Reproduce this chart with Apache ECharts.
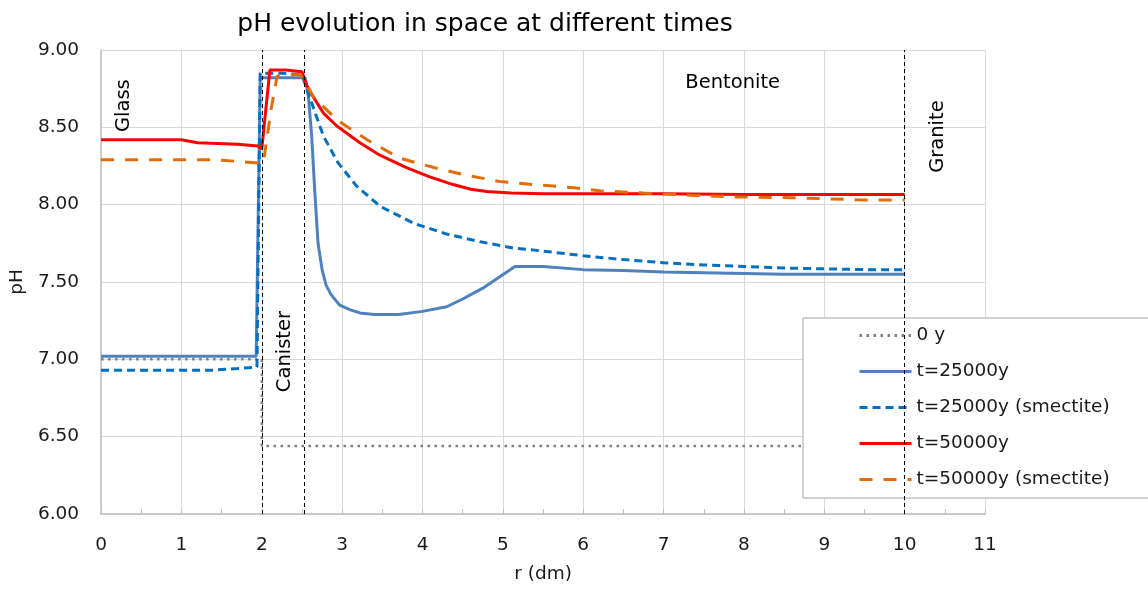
<!DOCTYPE html>
<html>
<head>
<meta charset="utf-8">
<script src="https://cdn.jsdelivr.net/npm/echarts@6/dist/echarts.min.js"></script>
<style>
  html, body { margin: 0; padding: 0; background: #fff; }
  #chart { width: 1148px; height: 589px; }
</style>
</head>
<body>
<div id="chart"></div>
<script>
// Radial distance r (dm) and pH for each simulated time
const r0y = [0, 2, 2, 10];
const ph0y = [7.00, 7.00, 6.44, 6.44];

const r25 = [0, 1.5, 1.93, 1.98, 2.25, 2.54, 2.58, 2.62, 2.66, 2.70, 2.75, 2.80, 2.86, 2.97, 3.1, 3.22, 3.4, 3.7, 4.0, 4.3, 4.5, 4.75, 5.15, 5.5, 6.0, 6.5, 7.0, 7.5, 8.0, 8.5, 9.0, 9.5, 10];
const ph25 = [7.02, 7.02, 7.02, 8.82, 8.82, 8.82, 8.70, 8.45, 8.08, 7.75, 7.58, 7.48, 7.42, 7.35, 7.32, 7.30, 7.29, 7.29, 7.31, 7.34, 7.39, 7.46, 7.60, 7.60, 7.58, 7.575, 7.565, 7.56, 7.555, 7.55, 7.55, 7.55, 7.55];

const r25s = [0, 1.4, 1.7, 1.94, 1.98, 2.25, 2.5, 2.58, 2.68, 2.77, 2.95, 3.18, 3.47, 3.89, 4.3, 4.72, 5.13, 5.5, 6.0, 6.5, 7.0, 7.5, 8.0, 8.5, 9.0, 9.5, 10];
const ph25s = [6.93, 6.93, 6.94, 6.95, 8.85, 8.85, 8.84, 8.72, 8.57, 8.44, 8.27, 8.12, 7.99, 7.88, 7.81, 7.76, 7.72, 7.70, 7.67, 7.645, 7.625, 7.61, 7.60, 7.59, 7.585, 7.58, 7.58];

const r50 = [0, 1.0, 1.2, 1.7, 1.95, 2.0, 2.1, 2.3, 2.5, 2.56, 2.66, 2.77, 2.93, 3.22, 3.47, 3.8, 4.09, 4.38, 4.6, 4.8, 5.1, 5.5, 6, 7, 8, 9, 10];
const ph50 = [8.42, 8.42, 8.40, 8.39, 8.38, 8.36, 8.87, 8.87, 8.86, 8.77, 8.68, 8.59, 8.51, 8.40, 8.32, 8.24, 8.18, 8.13, 8.10, 8.085, 8.075, 8.07, 8.07, 8.07, 8.065, 8.065, 8.065];

const r50s = [0, 1.4, 1.7, 1.95, 2.02, 2.12, 2.19, 2.3, 2.48, 2.64, 2.93, 3.31, 3.72, 4.14, 4.55, 4.96, 5.38, 5.88, 6.2, 6.75, 7.37, 7.91, 8.62, 9.5, 10];
const ph50s = [8.29, 8.29, 8.28, 8.27, 8.27, 8.63, 8.83, 8.84, 8.84, 8.70, 8.55, 8.42, 8.30, 8.24, 8.19, 8.15, 8.13, 8.11, 8.09, 8.075, 8.06, 8.05, 8.045, 8.03, 8.03];

const seriesNames = ['0 y', 't=25000y', 't=25000y (smectite)', 't=50000y', 't=50000y (smectite)'];

// Material boundaries (dm) and region labels [text, r, pH, rotated]
const boundaries = [2, 2.53, 10];
const regionLabels = [
  ['Glass', 0.29, 8.64, true],
  ['Canister', 2.29, 7.05, true],
  ['Bentonite', 7.86, 8.79, false],
  ['Granite', 10.42, 8.44, true]
];

const FONT = '"DejaVu Sans", sans-serif';
const TXT = '#1a1a1a';
const zip = (xs, ys) => xs.map((x, i) => [x, ys[i]]);

const chart = echarts.init(document.getElementById('chart'), null, { renderer: 'canvas' });

const lineSeries = (name, data, color, type, width, extra) => Object.assign({
  name, type: 'line', data, symbol: 'none', showSymbol: false,
  lineStyle: { color, type, width, cap: 'butt' },
  itemStyle: { color },
  animation: false, z: 3
}, extra || {});

chart.setOption({
  animation: false,
  textStyle: { fontFamily: FONT },
  title: {
    text: 'pH evolution in space at different times',
    left: 480, top: 7, textAlign: 'center',
    textStyle: { fontFamily: FONT, fontSize: 25, fontWeight: 'normal', color: '#000' }
  },
  grid: { left: 101, right: 163, top: 50, bottom: 74, containLabel: false },
  xAxis: {
    type: 'value', min: 0, max: 11, interval: 1,
    name: 'r (dm)', nameLocation: 'middle', nameGap: 51,
    nameTextStyle: { fontFamily: FONT, fontSize: 18.5, color: TXT },
    axisLine: { show: true, lineStyle: { color: '#bfbfbf', width: 1.5 } },
    axisTick: { show: true, inside: true, length: 5, lineStyle: { color: '#bfbfbf' } },
    minorTick: { show: true, splitNumber: 2, length: 5, lineStyle: { color: '#bfbfbf' } },
    axisLabel: { fontFamily: FONT, fontSize: 18.5, color: TXT, margin: 22 },
    splitLine: { show: true, lineStyle: { color: '#d9d9d9', width: 1 } }
  },
  yAxis: {
    type: 'value', min: 6, max: 9, interval: 0.5,
    name: 'pH', nameLocation: 'middle', nameGap: 72, nameRotate: 90,
    nameTextStyle: { fontFamily: FONT, fontSize: 18.5, color: TXT },
    axisLine: { show: true, lineStyle: { color: '#bfbfbf', width: 1.5 } },
    axisTick: { show: false },
    axisLabel: { fontFamily: FONT, fontSize: 18.5, color: TXT, margin: 22, formatter: v => v.toFixed(2) },
    splitLine: { show: true, lineStyle: { color: '#d9d9d9', width: 1 } }
  },
  legend: {
    orient: 'vertical', left: 803, top: 318,
    backgroundColor: '#fff', borderColor: '#a6a6a6', borderWidth: 1, borderRadius: 0,
    padding: [8, 50, 9, 55],
    itemWidth: 52, itemHeight: 18, itemGap: 17,
    itemStyle: { opacity: 0 },
    lineStyle: { width: 3 },
    data: seriesNames,
    textStyle: { fontFamily: FONT, fontSize: 18.5, color: TXT }
  },
  series: [
    lineSeries(seriesNames[0], zip(r0y, ph0y), '#808080', [2.5, 4.5], 2.5, {
      markLine: {
        silent: true, symbol: ['none', 'none'], animation: false,
        label: { show: false },
        lineStyle: { color: '#000', width: 1, type: [4, 3] },
        data: boundaries.map(b => ({ xAxis: b }))
      }
    }),
    lineSeries(seriesNames[1], zip(r25, ph25), '#4f81bd', 'solid', 3),
    lineSeries(seriesNames[2], zip(r25s, ph25s), '#0070c0', [8, 5], 3),
    lineSeries(seriesNames[3], zip(r50, ph50), '#ff0000', 'solid', 3),
    lineSeries(seriesNames[4], zip(r50s, ph50s), '#e36c09', [13, 11], 3)
  ]
});

// Region labels placed at data coordinates
chart.setOption({
  graphic: regionLabels.map(([text, r, ph, rotated]) => {
    const [px, py] = chart.convertToPixel({ gridIndex: 0 }, [r, ph]);
    return {
      type: 'text', x: px, y: py, rotation: rotated ? Math.PI / 2 : 0, z: 10,
      style: { text, fontFamily: FONT, fontSize: 19.5, fill: '#000', align: 'center', verticalAlign: 'middle' }
    };
  })
});
</script>
</body>
</html>
